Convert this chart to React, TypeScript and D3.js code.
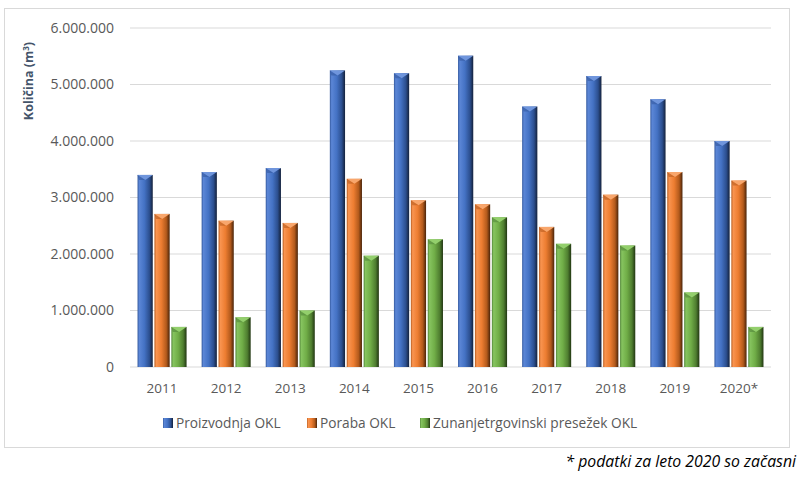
import React from 'react';
import * as d3 from 'd3';

const years = ['2011', '2012', '2013', '2014', '2015', '2016', '2017', '2018', '2019', '2020*'];
const proizvodnja = [3400000, 3450000, 3520000, 5250000, 5200000, 5510000, 4610000, 5150000, 4740000, 4000000];
const poraba = [2710000, 2590000, 2550000, 3330000, 2950000, 2880000, 2480000, 3050000, 3450000, 3300000];
const presezek = [710000, 880000, 1000000, 1970000, 2260000, 2650000, 2180000, 2150000, 1320000, 710000];
const seriesNames = ['Proizvodnja OKL', 'Poraba OKL', 'Zunanjetrgovinski presežek OKL'];
const yTicks = [0, 1000000, 2000000, 3000000, 4000000, 5000000, 6000000];

const palette = [
  { id: 'gBlue', stops: ['#34599e', '#5b86d6', '#4472c4', '#2c4f8f', '#14213b'], cap: '#6f95dc' },
  { id: 'gOrange', stops: ['#b85c1e', '#f99450', '#ed7d31', '#b35a1c', '#4a2409'], cap: '#f8a66c' },
  { id: 'gGreen', stops: ['#52853a', '#86c45f', '#70ad47', '#4f7e30', '#213612'], cap: '#93cf6c' },
];

const fmt = (v: number) => d3.format(',')(v).replace(/,/g, '.');
const font = '"Open Sans", "Liberation Sans", sans-serif';

export default function App() {
  const width = 800, height = 477;
  const left = 130, right = 771, top = 28, bottom = 367;

  const x = d3.scaleBand().domain(years).range([left, right]).paddingInner(0.235).paddingOuter(0.1175);
  const xs = d3.scaleBand().domain(seriesNames).range([0, x.bandwidth()]).paddingInner(0.1);
  const y = d3.scaleLinear().domain([0, 6000000]).range([bottom, top]);
  const data = [proizvodnja, poraba, presezek];

  const bar = (si: number, i: number) => {
    const v = data[si][i];
    const bx = x(years[i])! + xs(seriesNames[si])!;
    const bw = xs.bandwidth();
    const by = y(v);
    const bh = y(0) - by;
    const cap = 5;
    return (
      <g key={`${si}-${i}`}>
        <rect x={bx} y={by} width={bw} height={bh} fill={`url(#${palette[si].id})`} />
        <polygon points={`${bx},${by} ${bx + bw},${by} ${bx + bw / 2},${by + cap}`} fill={palette[si].cap} />
        <polygon points={`${bx},${by} ${bx + bw / 2},${by + cap} ${bx + 1.5},${by + cap}`} fill={palette[si].stops[0]} opacity={0.6} />
      </g>
    );
  };

  const legendX = [163, 307, 420];

  return (
    <svg width={width} height={height} style={{ position: 'absolute', left: 0, top: 0 }} fontFamily={font}>
      <defs>
        {palette.map(p => (
          <linearGradient key={p.id} id={p.id} x1="0" x2="1" y1="0" y2="0">
            <stop offset="0%" stopColor={p.stops[0]} />
            <stop offset="12%" stopColor={p.stops[1]} />
            <stop offset="45%" stopColor={p.stops[2]} />
            <stop offset="78%" stopColor={p.stops[3]} />
            <stop offset="100%" stopColor={p.stops[4]} />
          </linearGradient>
        ))}
      </defs>
      <rect x={0} y={0} width={width} height={height} fill="#fff" />
      <rect x={4.5} y={8.5} width={785} height={439} fill="#fff" stroke="#d9d9d9" />

      {yTicks.map(t => (
        <g key={t}>
          <line x1={left} x2={right} y1={y(t)} y2={y(t)} stroke="#d9d9d9" strokeWidth={1.2} />
          <text x={114} y={y(t)} dy="0.35em" textAnchor="end" fontSize={14} fill="#595959">{fmt(t)}</text>
        </g>
      ))}

      <text transform="translate(33,81) rotate(-90)" textAnchor="middle" fontSize={12.5} fontWeight="bold" fill="#44546a">
        Količina (m<tspan dy="-4" fontSize={8}>3</tspan><tspan dy="4">)</tspan>
      </text>

      {years.map((_, i) => [0, 1, 2].map(si => bar(si, i)))}

      {years.map(yr => (
        <text key={yr} x={x(yr)! + x.bandwidth() / 2} y={388} dy="0.35em" textAnchor="middle" fontSize={13.5} fill="#595959">{yr}</text>
      ))}

      {seriesNames.map((n, si) => (
        <g key={n}>
          <rect x={legendX[si]} y={418} width={10} height={10} fill={`url(#${palette[si].id})`} />
          <text x={legendX[si] + 13} y={423} dy="0.35em" fontSize={13.7} fill="#595959">{n}</text>
        </g>
      ))}

      <text x={796} y={461} dy="0.35em" textAnchor="end" fontSize={15.8} fontStyle="italic" fill="#000">* podatki za leto 2020 so začasni</text>
    </svg>
  );
}
